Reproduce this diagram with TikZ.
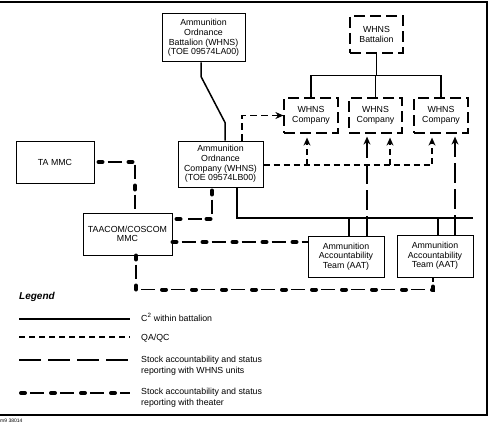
\documentclass[tikz,border=0pt]{standalone}
\usepackage{fontspec}
\setmainfont{Liberation Sans}
\usetikzlibrary{arrows.meta,calc}
\begin{document}
\begin{tikzpicture}[x=1pt,y=-1pt,
 box/.style={draw,line width=1pt,align=center,inner sep=1pt,font=\fontsize{8.8}{9.7}\selectfont},
 dbox/.style={box,line width=1.2pt,dash pattern=on 11pt off 5pt},
 c2/.style={line width=1.5pt},
 qa/.style={line width=1.3pt,dash pattern=on 6pt off 4pt},
 wh/.style={line width=1.3pt,dash pattern=on 20pt off 6pt},
 th/.style={line width=1.3pt,dash pattern=on 14pt off 16pt,dash phase=21pt,
   postaction={draw,line width=4pt,line cap=round,dash pattern=on 4pt off 26pt,dash phase=0pt}},
 tip/.style={-{Stealth[length=8pt,width=7pt]}},
 lt/.style={font=\fontsize{8.8}{11}\selectfont,align=left,inner sep=0pt}
]
\useasboundingbox (0,0) rectangle (490,428);
% frame
\draw[line width=1.2pt] (0,2) -- (487,2) -- (487,415) -- (0,415);
\node[anchor=west,font=\fontsize{5}{6}\selectfont,inner sep=0pt] (fig) at (0,421) {m9 38014};

% nodes
\node[box,minimum width=83pt,minimum height=48pt] (bat) at (203.5,38) {Ammunition\\Ordnance\\Battalion (WHNS)\\(TOE 09574LA00)};
\node[dbox,minimum width=53pt,minimum height=37pt] (wbat) at (376.5,34.5) {WHNS\\Battalion};
\node[dbox,minimum width=54pt,minimum height=35pt] (wc1) at (311,115.5) {WHNS\\Company};
\node[dbox,minimum width=53pt,minimum height=35pt] (wc2) at (375.5,115.5) {WHNS\\Company};
\node[dbox,minimum width=54pt,minimum height=35pt] (wc3) at (441,115.5) {WHNS\\Company};
\node[box,minimum width=78pt,minimum height=42pt] (ta) at (55,162) {TA MMC};
\node[box,minimum width=85pt,minimum height=46pt] (aoc) at (220.5,164) {Ammunition\\Ordnance\\Company (WHNS)\\(TOE 09574LB00)};
\node[box,minimum width=89pt,minimum height=42pt] (taa) at (127.5,234) {TAACOM/COSCOM\\MMC};
\node[box,minimum width=76pt,minimum height=41pt] (aat1) at (346,256.5) {Ammunition\\Accountability\\Team (AAT)};
\node[box,minimum width=76pt,minimum height=42pt] (aat2) at (435,256) {Ammunition\\Accountability\\Team (AAT)};

% C2 lines
\draw[c2] ($(bat.south)+(-2.5,0)$) -- ++(0,14) -- ($(aoc.north)+(4.5,-18)$) -- ($(aoc.north)+(4.5,0)$);
\coordinate (tj) at ($(wc2.north)+(0,-22)$);
\draw[c2] (wbat.south) -- (wbat.south |- tj);
\draw[c2] (wc1.north) |- (tj) -| (wc3.north);
\draw[c2] (tj) -- (wc2.north);
\coordinate (c0) at ($(aoc.south)+(16.5,0)$);
\coordinate (cend) at (473,218);
\draw[c2] (c0) |- (cend);
\draw[c2] ($(aat1.north)+(3,0)$) -- ++(0,-18);
\draw[c2] ($(aat2.north)+(3,0)$) -- ++(0,-17);

% QA/QC
\draw[qa,line width=1.7pt,dash pattern=on 7pt off 4pt,tip] ($(aoc.north)+(21.5,0)$) |- (wc1.west);
\coordinate (q1) at ($(wc1.south)+(-4,4)$);
\coordinate (q2) at ($(wc2.south)+(14.5,4)$);
\coordinate (q3) at ($(wc3.south)+(-9,4)$);
\coordinate (qa0) at ($(aoc.east)+(0,1)$);
\draw[qa,tip] (qa0) -| (q3);
\draw[qa,tip] (qa0 -| q1) -- (q1);
\draw[qa,tip] (qa0 -| q2) -- (q2);

% WHNS stock accountability
\coordinate (w2) at ($(wc2.south)+(-8.5,3)$);
\coordinate (w3) at ($(wc3.south)+(14,3)$);
\draw[wh,tip] (aat1.north -| w2) -- (w2);
\draw[wh,tip] (aat2.north -| w3) -- (w3);

% theater
\draw[th] ($(ta.east)+(4,0)$) -| ($(taa.north)+(7.5,0)$);
\draw[th] ($(aoc.south)+(-8.5,3)$) |- ($(taa.east)+(0,-15)$);
\coordinate (t2) at ($(taa.east)+(0,8)$);
\draw[th] (t2) -- (t2 -| aat1.west);
\draw[th] ($(taa.south)+(8.5,0)$) -- ++(0,34) -| ($(aat2.south)+(-2,0)$);

% legend
\node[anchor=west,inner sep=0pt,font=\bfseries\itshape\fontsize{10}{12}\selectfont] (leg) at (19,297) {Legend};
\coordinate (l1a) at (19,319); \coordinate (l1b) at (130,319);
\draw[c2] (l1a) -- (l1b);
\node[lt,anchor=west] (lt1) at (141,317) {C\textsuperscript{2} within battalion};
\coordinate (l2a) at (19,337); \coordinate (l2b) at (130,337);
\draw[qa] (l2a) -- (l2b);
\node[lt,anchor=west] (lt2) at (141,338) {QA/QC};
\coordinate (l3a) at (19,360); \coordinate (l3b) at (130,360);
\draw[wh,dash pattern=on 22pt off 7pt] (l3a) -- (l3b);
\node[lt,anchor=west] (lt3) at (141,365.5) {Stock accountability and status\\reporting with WHNS units};
\coordinate (l4a) at (21,393); \coordinate (l4b) at (130,393);
\draw[th] (l4a) -- (l4b);
\node[lt,anchor=west] (lt4) at (141,397.5) {Stock accountability and status\\reporting with theater};
\end{tikzpicture}
\end{document}
